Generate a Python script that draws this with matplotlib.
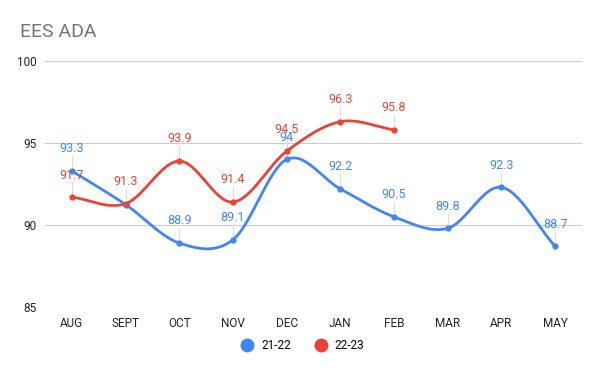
import numpy as np
import matplotlib.pyplot as plt
from matplotlib.lines import Line2D

plt.rcParams['font.family'] = ['Roboto', 'DejaVu Sans']

months = ["AUG", "SEPT", "OCT", "NOV", "DEC", "JAN", "FEB", "MAR", "APR", "MAY"]
ada_2122 = [93.3, 91.25, 88.9, 89.1, 94.0, 92.2, 90.5, 89.8, 92.3, 88.7]
ada_2223 = [91.7, 91.3, 93.9, 91.4, 94.5, 96.3, 95.8]
labels_2122 = ["93.3", "", "88.9", "89.1", "94", "92.2", "90.5", "89.8", "92.3", "88.7"]
labels_2223 = ["91.7", "91.3", "93.9", "91.4", "94.5", "96.3", "95.8"]

blue = "#4285f4"
red = "#ea4335"


def smooth(x, y, n=30):
    # catmull-rom style curve through the points
    x = np.asarray(x, float)
    y = np.asarray(y, float)
    px = np.concatenate([[2 * x[0] - x[1]], x, [2 * x[-1] - x[-2]]])
    py = np.concatenate([[2 * y[0] - y[1]], y, [2 * y[-1] - y[-2]]])
    xs, ys = [], []
    t = np.linspace(0, 1, n)
    for i in range(1, len(px) - 2):
        for p, out in ((px, xs), (py, ys)):
            p0, p1, p2, p3 = p[i - 1], p[i], p[i + 1], p[i + 2]
            out.append(0.5 * (2 * p1 + (-p0 + p2) * t
                              + (2 * p0 - 5 * p1 + 4 * p2 - p3) * t ** 2
                              + (-p0 + 3 * p1 - 3 * p2 + p3) * t ** 3))
    return np.concatenate(xs), np.concatenate(ys)


fig = plt.figure(figsize=(6, 3.71), dpi=100)
ax = fig.add_axes([0.075, 0.1725, 0.895, 0.663])

for vals, labs, col in ((ada_2122, labels_2122, blue), (ada_2223, labels_2223, red)):
    xi = np.arange(len(vals))
    sx, sy = smooth(xi, vals)
    ax.plot(sx, sy, color=col, lw=2, zorder=3, solid_capstyle="round")
    ax.plot(xi, vals, "o", color=col, ms=3.5, zorder=4)
    for x, v, lab in zip(xi, vals, labs):
        if not lab:
            continue
        ax.plot([x, x], [v, v + 0.9], color="#dddddd", lw=0.8, zorder=2)
        ax.text(x, v + 0.95, lab, color=col, fontsize=9, ha="center", va="bottom", zorder=5)

ax.set_xlim(-0.5, 9.5)
ax.set_ylim(85, 100)
ax.set_yticks([85, 90, 95, 100])
ax.set_xticks(range(len(months)))
ax.set_xticklabels(months)
ax.grid(axis="y", color="#cccccc", lw=0.8)
ax.set_axisbelow(True)
for s in ax.spines.values():
    s.set_visible(False)
ax.tick_params(length=0, labelsize=8.5, labelcolor="#222222")
ax.tick_params(axis="x", pad=7)
ax.tick_params(axis="y", pad=6)

fig.text(0.033, 0.915, "EES ADA", fontsize=14, color="#757575", va="center")

handles = [Line2D([], [], marker="o", ls="", color=blue, ms=9),
           Line2D([], [], marker="o", ls="", color=red, ms=9)]
fig.legend(handles, ["21-22", "22-23"], loc="center", bbox_to_anchor=(0.5, 0.068),
           ncol=2, frameon=False, fontsize=8.5, handletextpad=0.2, columnspacing=1.5)

fig.savefig("out.png", dpi=100)
